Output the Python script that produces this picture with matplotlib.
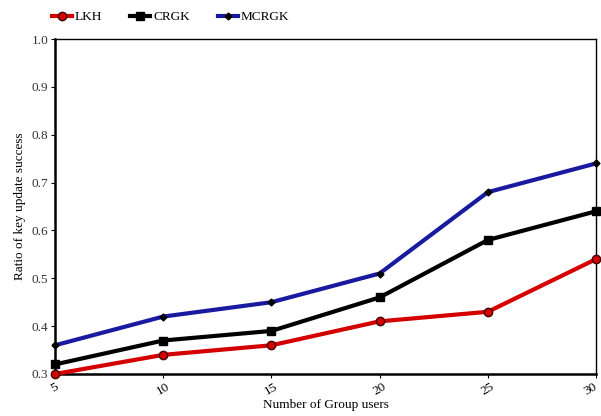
import matplotlib
matplotlib.use("Agg")
import matplotlib.pyplot as plt
import matplotlib.transforms as mtransforms

x_users = [5, 10, 15, 20, 25, 30]
lkh = [0.30, 0.34, 0.36, 0.41, 0.43, 0.54]
crgk = [0.32, 0.37, 0.39, 0.46, 0.58, 0.64]
mcrgk = [0.36, 0.42, 0.45, 0.51, 0.68, 0.74]
y_ticks = [0.3, 0.4, 0.5, 0.6, 0.7, 0.8, 0.9, 1.0]
series_names = ["LKH", "CRGK", "MCRGK"]

plt.rcParams['font.family'] = ['Liberation Serif', 'DejaVu Serif']

fig = plt.figure(figsize=(6.01, 4.16), dpi=100)
ax = fig.add_axes([55/601, 1 - 374/416, (596-55)/601, (374-39)/416])

ax.plot(x_users, lkh, color='#d40000', lw=3.0, marker='o', ms=6,
        mfc='#d40000', mec='#400000', mew=1.0, label=series_names[0], clip_on=False, zorder=3)
ax.plot(x_users, crgk, color='#000000', lw=3.0, marker='s', ms=5.5,
        mfc='black', mec='black', label=series_names[1], clip_on=False, zorder=3)
ax.plot(x_users, mcrgk, color='#1a1aa0', lw=3.0, marker='D', ms=3.5,
        mfc='black', mec='black', label=series_names[2], clip_on=False, zorder=3)

ax.set_xlim(5, 30)
ax.set_ylim(0.3, 1.0)
ax.set_xticks(x_users)
ax.set_xticklabels([str(v) for v in x_users], rotation=30, fontsize=9.5)
ax.set_yticks(y_ticks)
ax.set_yticklabels([f"{v:.1f}" for v in y_ticks], fontsize=9.5, color='#333333')
ax.tick_params(axis='both', direction='out', length=3, width=0.8, pad=2)

# nudge the last x tick label inward so it is not cut at the figure edge
last = ax.get_xticklabels()[-1]
last.set_transform(last.get_transform() +
                   mtransforms.ScaledTranslation(-5/100, 0, fig.dpi_scale_trans))

for side in ['left', 'bottom']:
    ax.spines[side].set_linewidth(1.8)
for side in ['top', 'right']:
    ax.spines[side].set_linewidth(1.0)

ax.set_xlabel("Number of Group users", fontsize=9.5, labelpad=1)
ax.set_ylabel("Ratio of key update success", fontsize=9.5, labelpad=4)

fig.legend(loc='upper left', bbox_to_anchor=(52/601, 1 - 11/416), ncol=3,
           frameon=False, fontsize=9.5, handlelength=1.5, handletextpad=0.25,
           columnspacing=2.1, borderaxespad=0, borderpad=0)

fig.savefig("out.png", dpi=100)
